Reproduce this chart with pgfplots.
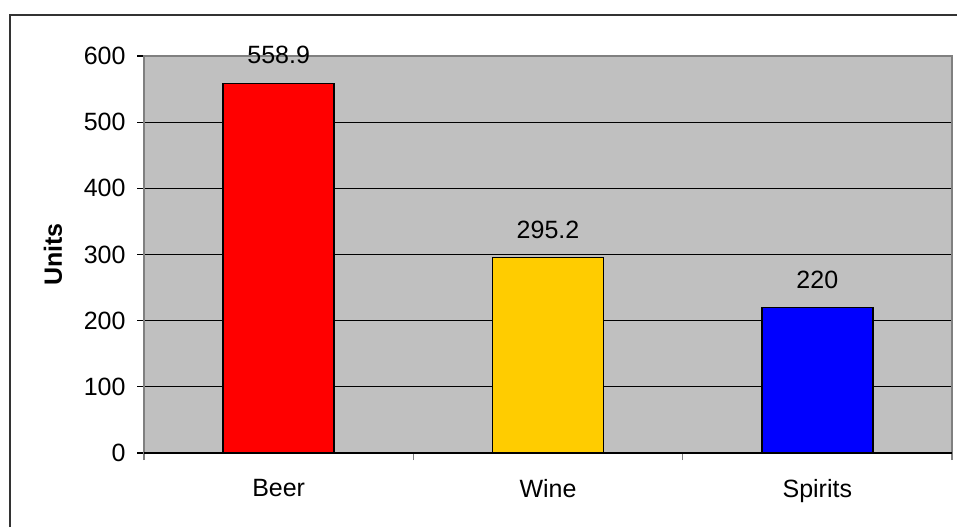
\documentclass[border=0pt]{standalone}
\usepackage{pgfplots}
\pgfplotsset{compat=1.18}
\usepackage{fontspec}
\setmainfont{Liberation Sans}

\definecolor{plotgray}{HTML}{C0C0C0}
\definecolor{framegray}{HTML}{808080}
\definecolor{beerred}{HTML}{FF0000}
\definecolor{wineyellow}{HTML}{FFCC00}
\definecolor{spiritblue}{HTML}{0000FF}

\begin{document}
\begin{tikzpicture}[x=1pt,y=1pt]
  % page extent and outer chart frame
  \path[use as bounding box] (0,0) rectangle (957,-527);
  \draw[line width=1.5pt,black!80] (10,-527) -- (10,-15) -- (957,-15);
  \node[rotate=90, font=\fontsize{25}{29}\selectfont\bfseries] at (53,-254.5) {Units};

  \begin{axis}[
    at={(144pt,-453pt)}, anchor=south west,
    scale only axis, width=808pt, height=397pt,
    xmin=0, xmax=3, ymin=0, ymax=600,
    axis background/.style={fill=plotgray},
    axis line style={framegray, line width=1.6pt},
    font=\fontsize{25}{29}\selectfont,
    /pgf/number format/assume math mode=true,
    tick pos=left,
    ytick={0,100,...,600},
    ymajorgrids, grid style={black, line width=1.1pt},
    major tick length=7pt,
    tick align=outside,
    ytick style={black, line width=1.1pt},
    xtick={0,1,2,3}, xticklabels={},
    xtick style={framegray, line width=1.5pt},
    extra x ticks={0.5,1.5,2.5},
    extra x tick labels={Beer,Wine,Spirits},
    extra x tick style={major tick length=0pt, grid=none,
      xticklabel style={yshift=-23pt}},
    yticklabel style={xshift=-8pt},
    ybar, bar width=111pt, bar shift=0pt,
    nodes near coords,
    nodes near coords style={font=\fontsize{25}{29}\selectfont,
      yshift=15pt, /pgf/number format/fixed,
      /pgf/number format/precision=1,
      /pgf/number format/assume math mode=true},
    point meta=y,
    clip=false,
  ]
    \addplot[fill=beerred, draw=black, line width=1.4pt]
      coordinates {(0.5,558.9)};
    \addplot[fill=wineyellow, draw=black, line width=1.4pt]
      coordinates {(1.5,295.2)};
    \addplot[fill=spiritblue, draw=black, line width=1.4pt]
      coordinates {(2.5,220)};
    % bottom axis line drawn in black over the gray frame
    \draw[black, line width=1.6pt] (axis cs:0,0) -- (axis cs:3,0);
  \end{axis}
\end{tikzpicture}
\end{document}
